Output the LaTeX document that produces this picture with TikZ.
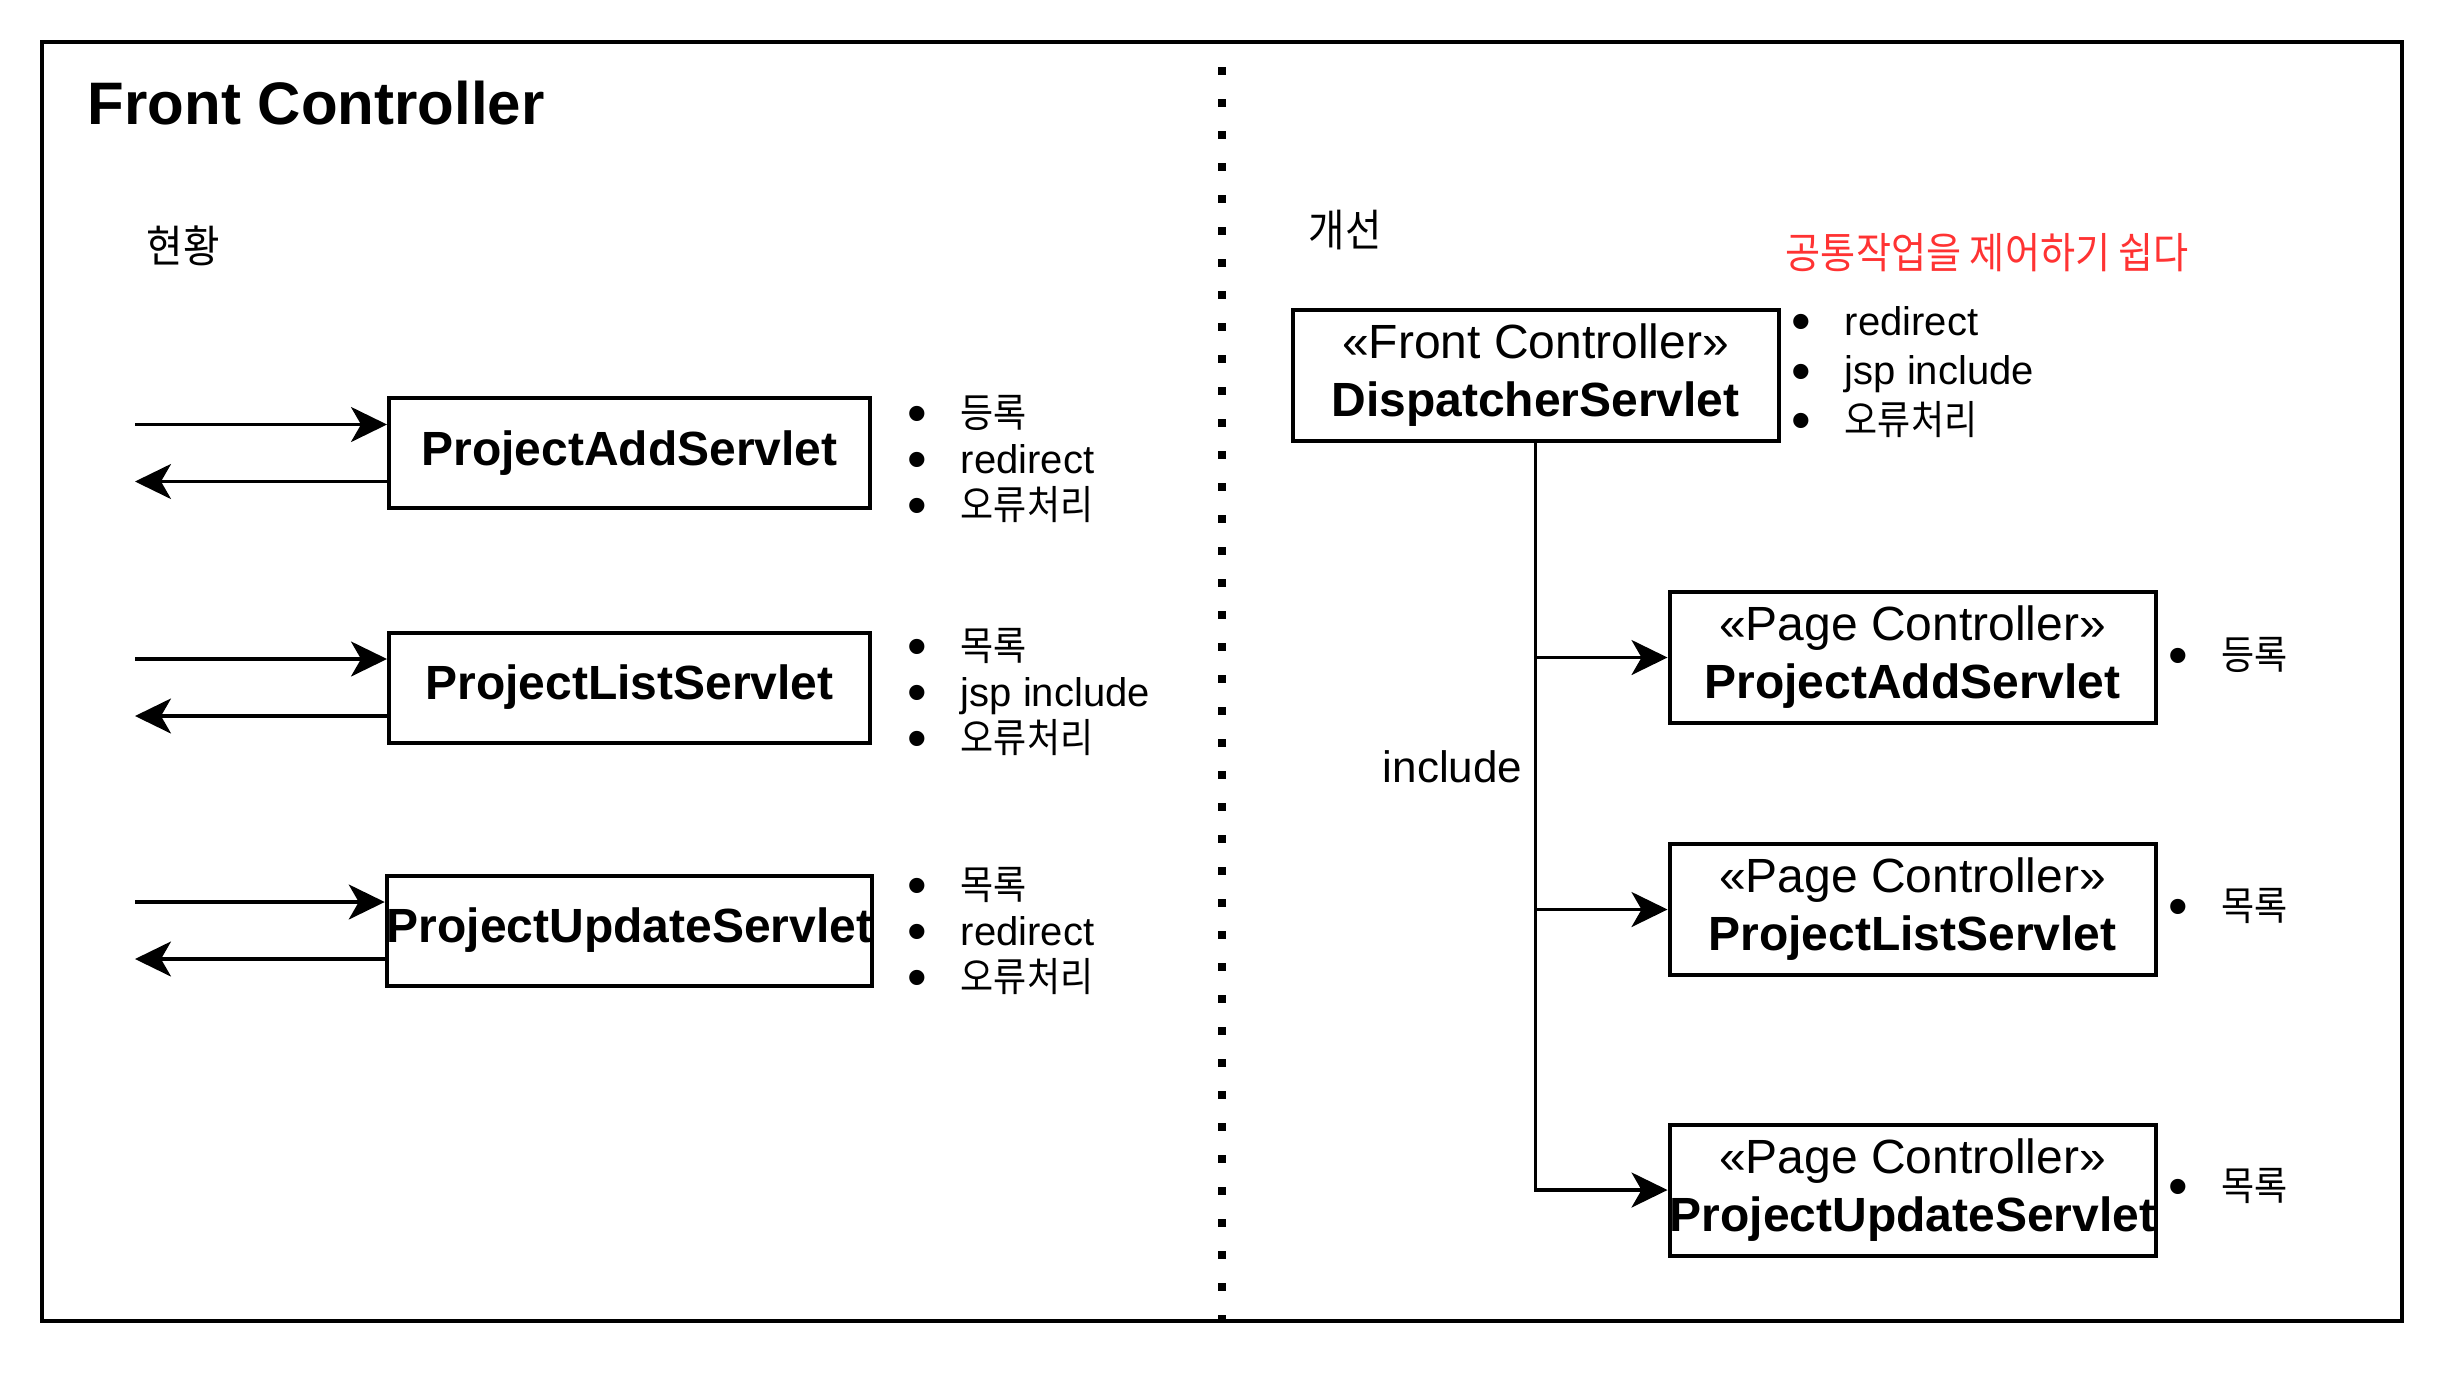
\documentclass[tikz,border=0pt]{standalone}
\usepackage{fontspec}
\setmainfont{Liberation Sans}
\newfontfamily\kr[FakeStretch=0.9]{Noto Sans CJK KR}
\usetikzlibrary{arrows.meta, calc}
\definecolor{hint}{RGB}{255,51,51}
\newcommand{\bulitem}[1]{\makebox[13.25pt][l]{\raisebox{-0.13em}{\scalebox{1.4}{\textbullet}}}{#1}}

\begin{document}
\begin{tikzpicture}[x=0.25pt, y=-0.25pt]
	\tikzstyle{servlet}=[draw, line width=1pt, minimum width=120.25pt, minimum height=27.5pt, inner sep=0pt, font=\fontsize{12}{14.5}\selectfont\bfseries]
	\tikzstyle{ctrl}=[draw, line width=1pt, minimum width=121.5pt, minimum height=32.75pt, inner sep=0pt, align=center, font=\fontsize{12}{14.5}\selectfont]
	\tikzstyle{items}=[anchor=west, align=left, inner sep=0pt, font=\fontsize{10}{11.5}\selectfont]
	\tikzstyle{flow}=[line width=0.8pt, -{Stealth[length=9pt, width=8.75pt, inset=2.5pt]}]

	\useasboundingbox (0,0) rectangle (2460,1372);
	\draw[line width=1pt] (42,42) rectangle (2402,1321);
	\draw[line width=1.9pt, dash pattern=on 1.9pt off 6.1pt] (1222,67) -- (1222,1321);

	\node[anchor=base west, inner sep=0pt, font=\fontsize{15}{18}\selectfont\bfseries] (title) at (87,124) {Front Controller};
	\node[font=\fontsize{11}{13}\selectfont\kr] (asis) at (183,246) {현황};
	\node[font=\fontsize{11}{13}\selectfont\kr] (tobe) at (1345,230) {개선};
	\node[anchor=west, inner sep=0pt, text=hint, font=\fontsize{10.6}{12}\selectfont\kr] (easy) at (1785,253) {공통작업을 제어하기 쉽다};

	% 현황
	\node[servlet] (add) at (629.5,453) {ProjectAddServlet};
	\node[servlet] (list) at (629.5,687.5) {ProjectListServlet};
	\node[servlet] (update) at (629.5,930.5) {ProjectUpdateServlet};
	\coordinate (edge) at (135,0);
	\foreach \s in {add, list, update} {
		\coordinate (\s-in) at ($(\s.north west)!0.25!(\s.south west)$);
		\coordinate (\s-out) at ($(\s.north west)!0.75!(\s.south west)$);
		\draw[flow] (\s-in -| edge) -- (\s-in);
		\draw[flow] (\s-out) -- (\s-out -| edge);
	}
	\node[items] (add-do) at (907,460) {\bulitem{\kr 등록}\\\bulitem{redirect}\\\bulitem{\kr 오류처리}};
	\node[items] (list-do) at (907,693) {\bulitem{\kr 목록}\\\bulitem{jsp include}\\\bulitem{\kr 오류처리}};
	\node[items] (update-do) at (907,932) {\bulitem{\kr 목록}\\\bulitem{redirect}\\\bulitem{\kr 오류처리}};

	% 개선
	\node[ctrl] (disp) at (1535.5,375.5) {«Front Controller»\\\textbf{DispatcherServlet}};
	\node[ctrl] (padd) at (1912.5,657.5) {«Page Controller»\\\textbf{ProjectAddServlet}};
	\node[ctrl] (plist) at (1912.5,909.5) {«Page Controller»\\\textbf{ProjectListServlet}};
	\node[ctrl] (pupdate) at (1912.5,1190) {«Page Controller»\\\textbf{ProjectUpdateServlet}};
	\node[items, font=\fontsize{10}{12.4}\selectfont] (disp-do) at (1791,373) {\bulitem{redirect}\\\bulitem{jsp include}\\\bulitem{\kr 오류처리}};
	\node[items] (padd-do) at (2168,656) {\bulitem{\kr 등록}};
	\node[items] (plist-do) at (2168,907) {\bulitem{\kr 목록}};
	\node[items] (pupdate-do) at (2168,1187) {\bulitem{\kr 목록}};

	\draw[flow] (disp.south) |- (padd.west);
	\draw[flow] (disp.south) |- (plist.west);
	\draw[flow] (disp.south) |- (pupdate.west);
	\node[anchor=east, inner sep=0pt, font=\fontsize{11}{13}\selectfont] (inc) at (1523,767) {include};
\end{tikzpicture}
\end{document}
